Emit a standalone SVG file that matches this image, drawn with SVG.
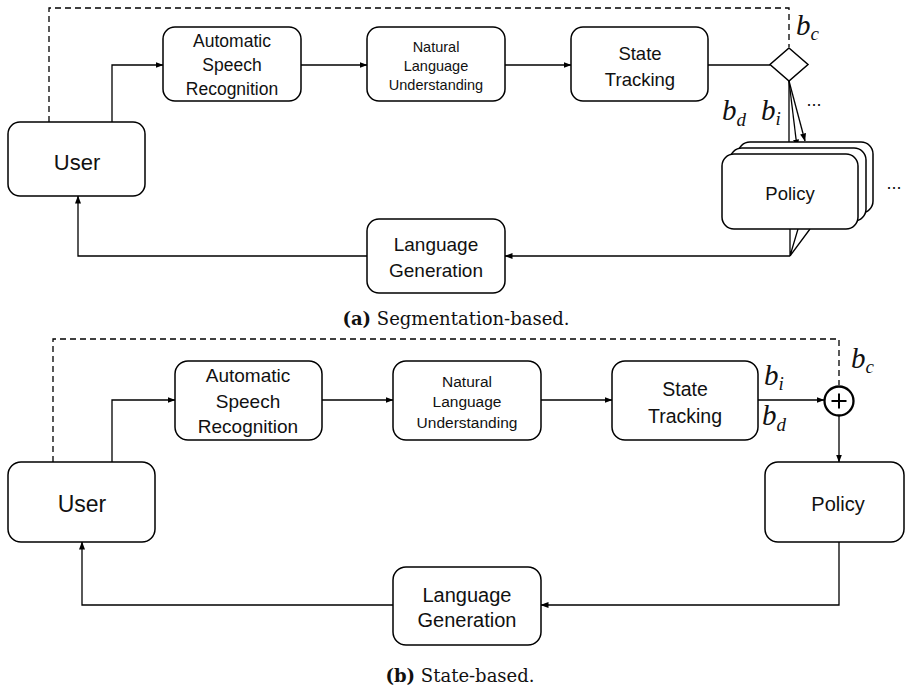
<svg xmlns="http://www.w3.org/2000/svg" width="905" height="689" viewBox="0 0 905 689">
<defs>
<marker id="ah" markerWidth="8" markerHeight="6" refX="7.5" refY="3" orient="auto" markerUnits="userSpaceOnUse">
<path d="M0,0 L8,3 L0,6 Z" fill="#000"/>
</marker>
<style>
.box{fill:#fff;stroke:#000;stroke-width:1.5}
.ln{fill:none;stroke:#000;stroke-width:1.3}
.arr{fill:none;stroke:#000;stroke-width:1.3;marker-end:url(#ah)}
.dash{fill:none;stroke:#000;stroke-width:1.3;stroke-dasharray:6 4}
.t{font-family:"Liberation Sans",Arial,sans-serif;fill:#111;text-anchor:middle}
.m{font-family:"Liberation Serif","DejaVu Serif",serif;font-style:italic;fill:#111}
.cap{font-family:"DejaVu Serif","Liberation Serif",serif;fill:#111;text-anchor:middle;font-size:18px}
</style>
</defs>
<rect width="905" height="689" fill="#fff"/>

<!-- Panel (a) connectors -->
<g id="connectors-a">
<path class="dash" d="M49,122 V8 H789 V47"/>
<path class="arr" d="M112,122 V65 H163"/>
<path class="arr" d="M301,65 H367"/>
<path class="arr" d="M505,65 H571"/>
<path class="ln" d="M708,65 H770"/>
<path class="arr" d="M789,81 V154"/>
<path class="arr" d="M789,81 L797,147"/>
<path class="arr" d="M789,81 L805,141"/>
<path class="ln" d="M790,229 V256 M798,229 L790,256 M810,229 L790,256"/>
<path class="arr" d="M790,256 H505"/>
<path class="arr" d="M367,256 H78 V196"/>
</g>

<g id="user-a">
<rect class="box" x="8" y="122" width="137" height="74" rx="12"/>
<text class="t" x="77" y="170" font-size="22">User</text>
</g>
<g id="asr-a">
<rect class="box" x="163" y="27" width="138" height="74" rx="12"/>
<text class="t" x="232" y="47" font-size="17.5">Automatic</text>
<text class="t" x="232" y="71" font-size="17.5">Speech</text>
<text class="t" x="232" y="95" font-size="17.5">Recognition</text>
</g>
<g id="nlu-a">
<rect class="box" x="367" y="27" width="138" height="74" rx="12"/>
<text class="t" x="436" y="52" font-size="14.5">Natural</text>
<text class="t" x="436" y="71" font-size="14.5">Language</text>
<text class="t" x="436" y="90" font-size="14.5">Understanding</text>
</g>
<g id="st-a">
<rect class="box" x="571" y="27" width="137" height="74" rx="12"/>
<text class="t" x="640" y="60" font-size="18.5">State</text>
<text class="t" x="640" y="86" font-size="18.5">Tracking</text>
</g>
<g id="diamond-a">
<path class="box" d="M789,48 L808,64.5 L789,81 L770,64.5 Z"/>
</g>
<g id="policy-a">
<rect class="box" x="738" y="142" width="135" height="71" rx="12"/>
<rect class="box" x="730" y="148" width="136" height="73" rx="12"/>
<rect class="box" x="722" y="154" width="136" height="75" rx="12"/>
<text class="t" x="790" y="200" font-size="18.5">Policy</text>
</g>
<g id="lg-a">
<rect class="box" x="367" y="219" width="138" height="74" rx="12"/>
<text class="t" x="436" y="251" font-size="19">Language</text>
<text class="t" x="436" y="277" font-size="19">Generation</text>
</g>
<g id="labels-a">
<text class="m" x="796" y="35" font-size="29">b<tspan font-size="19" dy="5">c</tspan></text>
<text class="m" x="722" y="120" font-size="29">b<tspan font-size="19" dy="6">d</tspan></text>
<text class="m" x="761" y="120" font-size="29">b<tspan font-size="19" dy="5">i</tspan></text>
<text class="t" x="814" y="106" font-size="18">...</text>
<text class="t" x="894" y="189" font-size="18">...</text>
</g>
<text class="cap" x="456" y="325"><tspan font-weight="bold">(a)</tspan> Segmentation-based.</text>

<!-- Panel (b) connectors -->
<g id="connectors-b">
<path class="dash" d="M53,462 V339 H839 V385"/>
<path class="arr" d="M112,462 V400 H175"/>
<path class="arr" d="M322,400 H393"/>
<path class="arr" d="M541,400 H612"/>
<path class="arr" d="M758,400 H824"/>
<path class="arr" d="M839,416 V462"/>
<path class="arr" d="M839,542 V605 H541"/>
<path class="arr" d="M393,605 H82 V542"/>
</g>

<g id="user-b">
<rect class="box" x="8" y="462" width="147" height="80" rx="13"/>
<text class="t" x="82" y="512" font-size="23">User</text>
</g>
<g id="asr-b">
<rect class="box" x="175" y="361" width="147" height="79" rx="13"/>
<text class="t" x="248" y="382" font-size="19">Automatic</text>
<text class="t" x="248" y="408" font-size="19">Speech</text>
<text class="t" x="248" y="433" font-size="19">Recognition</text>
</g>
<g id="nlu-b">
<rect class="box" x="393" y="361" width="148" height="79" rx="13"/>
<text class="t" x="467" y="387" font-size="15.5">Natural</text>
<text class="t" x="467" y="407" font-size="15.5">Language</text>
<text class="t" x="467" y="428" font-size="15.5">Understanding</text>
</g>
<g id="st-b">
<rect class="box" x="612" y="361" width="146" height="79" rx="13"/>
<text class="t" x="685" y="396" font-size="19.5">State</text>
<text class="t" x="685" y="423" font-size="19.5">Tracking</text>
</g>
<g id="sum-b">
<circle cx="839" cy="401" r="14.5" fill="#fff" stroke="#000" stroke-width="2.3"/>
<path d="M839,393.5 V408.5 M831.5,401 H846.5" stroke="#000" stroke-width="2"/>
</g>
<g id="policy-b">
<rect class="box" x="765" y="462" width="139" height="80" rx="13"/>
<text class="t" x="838" y="511" font-size="20">Policy</text>
</g>
<g id="lg-b">
<rect class="box" x="393" y="567" width="148" height="78" rx="13"/>
<text class="t" x="467" y="602" font-size="20">Language</text>
<text class="t" x="467" y="627" font-size="20">Generation</text>
</g>
<g id="labels-b">
<text class="m" x="851" y="368" font-size="29">b<tspan font-size="19" dy="5">c</tspan></text>
<text class="m" x="764" y="385" font-size="29">b<tspan font-size="19" dy="5">i</tspan></text>
<text class="m" x="762" y="425" font-size="29">b<tspan font-size="19" dy="6">d</tspan></text>
</g>
<text class="cap" x="460" y="682"><tspan font-weight="bold">(b)</tspan> State-based.</text>
</svg>
